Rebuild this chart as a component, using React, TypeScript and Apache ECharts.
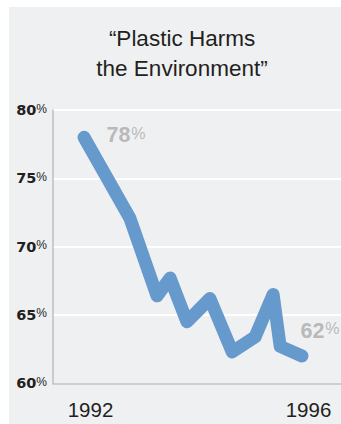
import React, { useEffect, useRef } from "react";
import * as echarts from "echarts";

// Survey share agreeing that plastic harms the environment
const years = [1992, 1992.84, 1993.34, 1993.58, 1993.89, 1994.31, 1994.72, 1995.14, 1995.47, 1995.6, 1996];
const shares = [78, 72.1, 66.4, 67.7, 64.5, 66.2, 62.3, 63.4, 66.5, 62.7, 62];
const yearTicks = [1992, 1996];
const titleLines = ["\u201CPlastic Harms", "the Environment\u201D"];

const SANS = '"Liberation Sans", Arial, sans-serif';

export default function App() {
  const ref = useRef<HTMLDivElement>(null);

  useEffect(() => {
    if (!ref.current) return;
    const chart = echarts.init(ref.current, null, { renderer: "svg" });

    const last = shares.length - 1;
    const endLabels = [
      { value: [years[0], shares[0]], offset: [42, -2] },
      { value: [years[last], shares[last]], offset: [18, -25] },
    ];

    chart.setOption({
      animation: false,
      backgroundColor: "#eff0f2",
      title: {
        text: titleLines.join("\n"),
        left: 168,
        top: 12,
        textAlign: "center",
        textStyle: {
          fontFamily: SANS,
          fontSize: 22.5,
          fontWeight: "normal",
          lineHeight: 29.5,
          color: "#231f20",
        },
      },
      grid: { left: 44, top: 103, right: 0, bottom: 40.7 },
      xAxis: {
        type: "value",
        min: 1991.431,
        max: 1996.716,
        axisLine: { show: true, lineStyle: { color: "#bfbfbf", width: 1.5 } },
        axisTick: { show: false },
        splitLine: { show: false },
        axisLabel: {
          customValues: yearTicks,
          formatter: (v: number) => String(Math.round(v)),
          fontFamily: SANS,
          fontSize: 20.5,
          color: "#231f20",
          margin: 16,
          padding: [0, 0, 0, 13],
        },
      },
      yAxis: {
        type: "value",
        min: 60,
        max: 80,
        interval: 5,
        axisLine: { show: true, lineStyle: { color: "#bfbfbf", width: 1.5 } },
        axisTick: { show: false },
        splitLine: { show: true, lineStyle: { color: "#ffffff", width: 2 } },
        axisLabel: {
          margin: 6,
          fontFamily: '"DejaVu Sans", sans-serif',
          fontWeight: "bold",
          fontSize: 14.5,
          color: "#231f20",
          formatter: (v: number) => `${v}{p|%}`,
          rich: {
            p: {
              fontFamily: SANS,
              fontWeight: "normal",
              fontSize: 12,
              color: "#231f20",
              padding: [0, 0, 3, 0],
            },
          },
        },
      },
      series: [
        {
          type: "line",
          data: years.map((y, i) => [y, shares[i]]),
          showSymbol: false,
          lineStyle: { color: "#6699cc", width: 13, cap: "round", join: "round" },
          silent: true,
        },
        {
          type: "scatter",
          symbolSize: 1,
          itemStyle: { color: "rgba(0,0,0,0)" },
          silent: true,
          data: endLabels.map((d) => ({
            value: d.value,
            label: {
              show: true,
              position: "inside",
              offset: d.offset,
              fontFamily: SANS,
              fontWeight: "bold",
              fontSize: 21.5,
              color: "#aaaaaa",
              formatter: (p: any) => `${Math.round(p.value[1])}{p|%}`,
              rich: {
                p: {
                  fontFamily: SANS,
                  fontWeight: "normal",
                  fontSize: 16,
                  color: "#aaaaaa",
                  padding: [0, 0, 4, 1],
                },
              },
            },
          })),
        },
      ],
    });

    return () => chart.dispose();
  }, []);

  return (
    <div
      ref={ref}
      style={{ position: "fixed", left: 9, top: 7, width: 332, height: 417 }}
    />
  );
}
